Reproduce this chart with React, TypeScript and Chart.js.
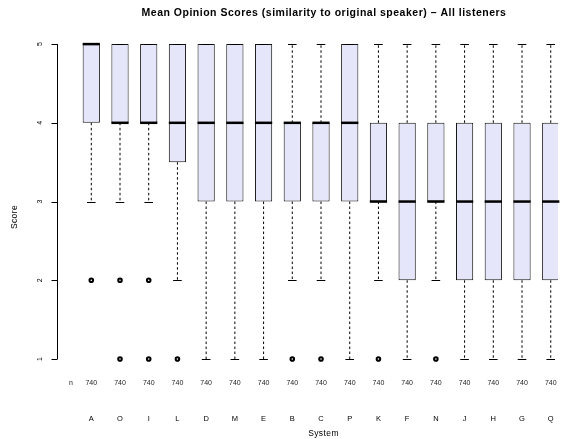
import { useEffect, useRef } from 'react';
import { Chart, registerables } from 'chart.js';

Chart.register(...registerables);

const systems = ['A', 'O', 'I', 'L', 'D', 'M', 'E', 'B', 'C', 'P', 'K', 'F', 'N', 'J', 'H', 'G', 'Q'];
const q1 = [4, 4, 4, 3.5, 3, 3, 3, 3, 3, 3, 3, 2, 3, 2, 2, 2, 2];
const medians = [5, 4, 4, 4, 4, 4, 4, 4, 4, 4, 3, 3, 3, 3, 3, 3, 3];
const q3 = [5, 5, 5, 5, 5, 5, 5, 4, 4, 5, 4, 4, 4, 4, 4, 4, 4];
const whiskerLow = [3, 3, 3, 2, 1, 1, 1, 2, 2, 1, 2, 1, 2, 1, 1, 1, 1];
const whiskerHigh = [5, 5, 5, 5, 5, 5, 5, 5, 5, 5, 5, 5, 5, 5, 5, 5, 5];
const outliers: number[][] = [[2], [2, 1], [2, 1], [1], [], [], [], [1], [1], [], [1], [], [1], [], [], [], []];
const counts = [740, 740, 740, 740, 740, 740, 740, 740, 740, 740, 740, 740, 740, 740, 740, 740, 740];
const yTicks = [1, 2, 3, 4, 5];

const TITLE = 'Mean Opinion Scores (similarity to original speaker) \u2013 All listeners';
const FONT = '"Liberation Sans", Arial, Helvetica, sans-serif';

const boxExtras = {
  id: 'boxExtras',
  afterDatasetsDraw(chart: any) {
    const { ctx, scales } = chart;
    const x = scales.x;
    const y = scales.y;
    const meta = chart.getDatasetMeta(0);
    ctx.save();
    systems.forEach((_, i) => {
      const cx = x.getPixelForValue(i + 1);
      const bar = meta.data[i];
      const half = bar ? bar.width / 2 : 8.7;
      const staple = half / 2;
      ctx.strokeStyle = '#000';
      ctx.lineWidth = 1;
      ctx.setLineDash([2.5, 2.5]);
      ctx.beginPath();
      if (whiskerHigh[i] > q3[i]) {
        ctx.moveTo(cx, y.getPixelForValue(q3[i]));
        ctx.lineTo(cx, y.getPixelForValue(whiskerHigh[i]));
      }
      if (whiskerLow[i] < q1[i]) {
        ctx.moveTo(cx, y.getPixelForValue(q1[i]));
        ctx.lineTo(cx, y.getPixelForValue(whiskerLow[i]));
      }
      ctx.stroke();
      ctx.setLineDash([]);
      ctx.beginPath();
      [whiskerHigh[i], whiskerLow[i]].forEach((v) => {
        const py = Math.round(y.getPixelForValue(v)) + 0.5;
        ctx.moveTo(cx - staple, py);
        ctx.lineTo(cx + staple, py);
      });
      ctx.stroke();
      ctx.lineWidth = 2.5;
      ctx.beginPath();
      const my = y.getPixelForValue(medians[i]);
      ctx.moveTo(cx - half, my);
      ctx.lineTo(cx + half, my);
      ctx.stroke();
    });
    ctx.restore();
  },
  afterDraw(chart: any) {
    const { ctx, scales } = chart;
    const x = scales.x;
    const y = scales.y;
    ctx.save();
    ctx.fillStyle = '#000';
    ctx.strokeStyle = '#000';
    ctx.lineWidth = 1;
    const ax = 57.5;
    const yTop = y.getPixelForValue(yTicks[yTicks.length - 1]);
    const yBot = y.getPixelForValue(yTicks[0]);
    ctx.beginPath();
    ctx.moveTo(ax, yTop);
    ctx.lineTo(ax, yBot);
    yTicks.forEach((t) => {
      const py = Math.round(y.getPixelForValue(t)) + 0.5;
      ctx.moveTo(ax, py);
      ctx.lineTo(ax - 6, py);
    });
    ctx.stroke();
    ctx.font = '7px ' + FONT;
    ctx.textAlign = 'center';
    ctx.textBaseline = 'middle';
    yTicks.forEach((t) => {
      const py = y.getPixelForValue(t);
      ctx.save();
      ctx.translate(40, py);
      ctx.rotate(-Math.PI / 2);
      ctx.fillText(String(t), 0, 0);
      ctx.restore();
    });
    ctx.fillStyle = '#222';
    ctx.fillText('n', 71, 383);
    counts.forEach((c, i) => {
      ctx.fillText(String(c), x.getPixelForValue(i + 1), 383);
    });
    ctx.fillStyle = '#000';
    ctx.font = '7.5px ' + FONT;
    systems.forEach((s, i) => {
      ctx.fillText(s, x.getPixelForValue(i + 1), 419);
    });
    ctx.font = '8.5px ' + FONT;
    (ctx as any).letterSpacing = '0.4px';
    ctx.fillText('System', 323.5, 434);
    ctx.save();
    ctx.translate(15, 217);
    ctx.rotate(-Math.PI / 2);
    ctx.fillText('Score', 0, 0);
    ctx.restore();
    ctx.font = 'bold 10.5px ' + FONT;
    (ctx as any).letterSpacing = '0.5px';
    ctx.fillText(TITLE, 324, 13);
    (ctx as any).letterSpacing = '0px';
    ctx.restore();
  },
};

export default function App() {
  const ref = useRef<HTMLCanvasElement>(null);
  useEffect(() => {
    document.body.style.margin = '0';
    const canvas = ref.current;
    if (!canvas) return;
    const chart = new Chart(canvas, {
      type: 'bar',
      data: {
        datasets: [
          {
            type: 'bar',
            data: systems.map((_, i) => ({ x: i + 1, y: [q1[i], q3[i]] })) as any,
            backgroundColor: '#E6E6FA',
            borderColor: '#111',
            borderWidth: 1,
            borderSkipped: false,
            barPercentage: 0.6,
            categoryPercentage: 1,
          } as any,
          {
            type: 'scatter',
            data: outliers.flatMap((vals, i) => vals.map((v) => ({ x: i + 1, y: v }))) as any,
            pointStyle: 'circle',
            pointRadius: 1.8,
            pointBorderWidth: 2,
            pointBorderColor: '#000',
            pointBackgroundColor: 'rgba(0,0,0,0)',
          } as any,
        ],
      },
      options: {
        responsive: false,
        animation: false,
        devicePixelRatio: 1,
        layout: { padding: { left: 57, right: 0, top: 31.5, bottom: 67.4 } },
        plugins: { legend: { display: false }, tooltip: { enabled: false }, title: { display: false } },
        scales: {
          x: { type: 'linear', display: false, min: -0.194, max: 17.253, offset: false },
          y: { type: 'linear', display: false, min: 0.84, max: 5.16 },
        },
      },
      plugins: [boxExtras],
    });
    return () => chart.destroy();
  }, []);
  return (
    <div style={{ position: 'absolute', left: 0, top: 0, width: 564, height: 439 }}>
      <canvas ref={ref} width={564} height={439} style={{ width: 564, height: 439 }} />
    </div>
  );
}
